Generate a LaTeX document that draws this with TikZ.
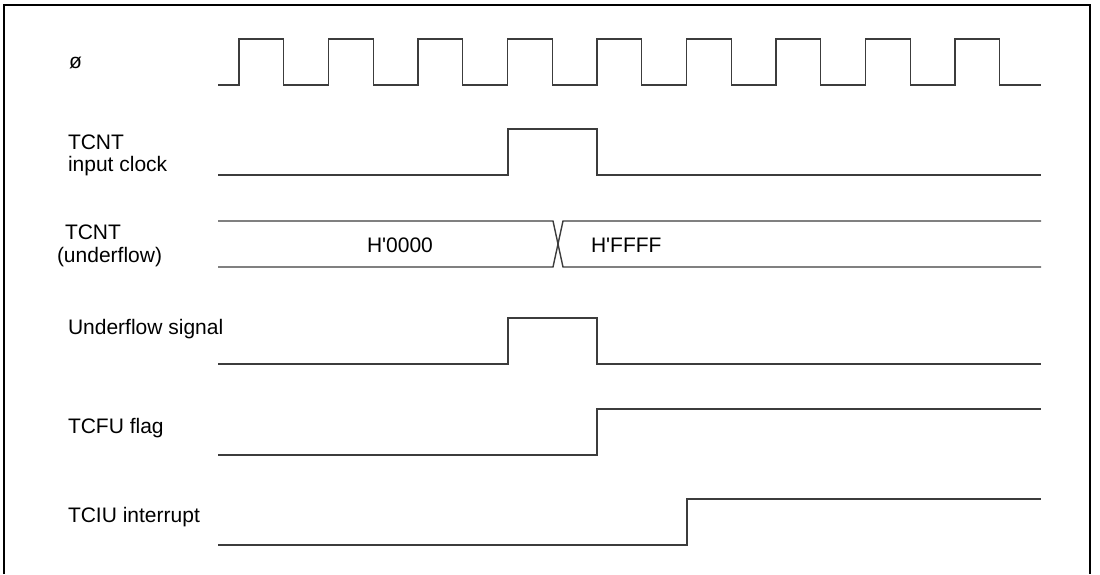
\documentclass[tikz,border=0pt]{standalone}
\usepackage{fontspec}
\setmainfont{Liberation Sans}[Ligatures=TeXOff]
\definecolor{sig}{RGB}{60,60,60}
\tikzset{
  lbl/.style={anchor=base west, inner sep=0pt, outer sep=0pt, font=\fontsize{21}{25}\selectfont},
  wave/.style={draw=sig, line width=1.4pt, line join=miter},
  frame/.style={draw=black, line width=1.3pt}
}
\begin{document}
\begin{tikzpicture}[x=1pt,y=-1pt]
\useasboundingbox (0,0) rectangle (1100,574);
% frame (open at bottom)
\draw[frame] (4,574) -- (4,5) -- (1090,5) -- (1090,574);

% labels
\node[lbl] (lphi) at (69,68) {ø};
\node[lbl] (lin1) at (68,149) {TCNT};
\node[lbl] (lin2) at (68,171) {input clock};
\node[lbl] (lund1) at (65,239) {TCNT};
\node[lbl] (lund2) at (57,262) {(underflow)};
\node[lbl] (lsig) at (68,334) {Underflow signal};
\node[lbl] (lfu) at (68,433) {TCFU flag};
\node[lbl] (liu) at (68,522) {TCIU interrupt};
\node[lbl] (v0) at (367,252) {H'0000};
\node[lbl] (v1) at (591,252) {H'FFFF};

% phi clock
\draw[wave] (218,85) foreach \k in {0,...,8} {
  -- ({239+89.5*\k},85) -- ({239+89.5*\k},39) -- ({283.7+89.5*\k},39) -- ({283.7+89.5*\k},85) }
  -- (1041,85);

% TCNT input clock
\draw[wave] (218,175) -- (508,175) -- (508,129) -- (597,129) -- (597,175) -- (1041,175);

% TCNT bus
\draw[wave] (218,221) -- (553,221) -- (563,267) -- (1041,267);
\draw[wave] (218,267) -- (553,267) -- (563,221) -- (1041,221);

% Underflow signal
\draw[wave] (218,364) -- (508,364) -- (508,318) -- (597,318) -- (597,364) -- (1041,364);

% TCFU flag
\draw[wave] (218,455) -- (597,455) -- (597,409) -- (1041,409);

% TCIU interrupt
\draw[wave] (218,545) -- (687,545) -- (687,499) -- (1041,499);
\end{tikzpicture}
\end{document}
